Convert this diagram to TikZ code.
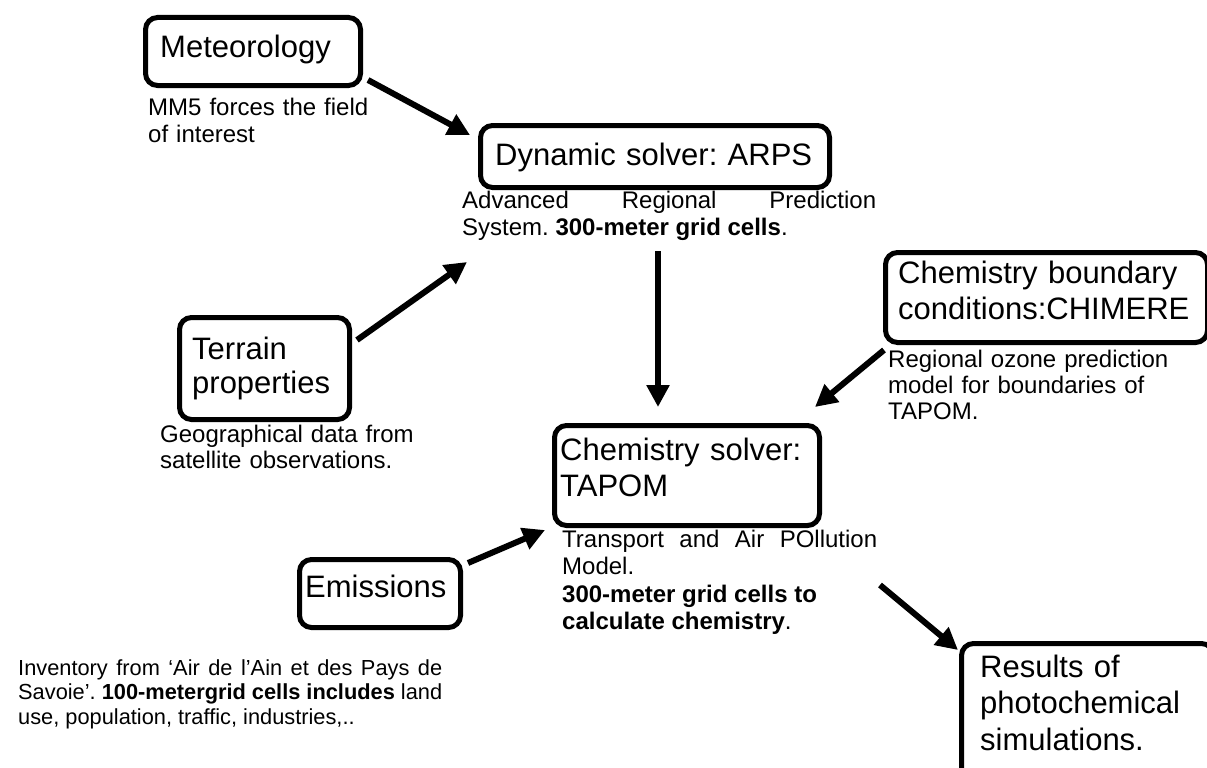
\documentclass[tikz,border=0pt]{standalone}
\usepackage{fontspec}
\setmainfont{Liberation Sans}
\frenchspacing
\usetikzlibrary{arrows.meta}
\tikzset{
  box/.style={draw, line width=5pt, rounded corners=12pt, inner sep=0pt, anchor=north west},
  bigtxt/.style={font=\fontsize{31}{36}\selectfont, inner sep=0pt, anchor=base west, align=left, text width=330pt},
  smalltxt/.style={font=\fontsize{24}{27.5}\selectfont, inner sep=0pt, anchor=base west, align=left, text width=320pt},
  justtxt/.style={font=\fontsize{24}{27.5}\selectfont, inner sep=0pt, anchor=base west, align=justify},
  arr/.style={line width=6pt, -{Triangle[length=22pt,width=22pt]}}
}
\begin{document}
\begin{tikzpicture}[x=1pt,y=-1pt]
\useasboundingbox (0,0) rectangle (1207,768);
% boxes and texts
\node[box, minimum width=215pt, minimum height=68pt] (met) at (143,15) {};
\node[bigtxt] (mettxt) at (160,58) {Meteorology};
\node[smalltxt] (metdesc) at (148,115) {MM5 forces the field\\of interest};

\node[box, minimum width=349pt, minimum height=62pt] (arps) at (478,123) {};
\node[bigtxt, text width=340pt] (arpstxt) at (495,165) {Dynamic solver: ARPS};
\node[justtxt, text width=414pt] (arpsdesc) at (462,208) {Advanced Regional Prediction\linebreak System. \textbf{300-meter grid cells}.};

\node[box, minimum width=170pt, minimum height=102pt] (ter) at (177,315) {};
\node[bigtxt, font=\fontsize{31}{34.5}\selectfont] (tertxt) at (192,359) {Terrain\\properties};
\node[smalltxt, font=\fontsize{24}{26}\selectfont] (terdesc) at (160,442) {Geographical data from\\satellite observations.};

\node[box, minimum width=322pt, minimum height=90pt] (chim) at (883,250) {};
\node[bigtxt] (chimtxt) at (898,283) {Chemistry boundary\\conditions:CHIMERE};
\node[smalltxt, font=\fontsize{24}{26}\selectfont] (chimdesc) at (888,367) {Regional ozone prediction\\model for boundaries of\\TAPOM.};

\node[box, minimum width=265pt, minimum height=100pt] (tap) at (552,423) {};
\node[bigtxt] (taptxt) at (560,460) {Chemistry solver:\\TAPOM};
\node[justtxt, text width=315pt] (tapdesc) at (562,547) {Transport and Air POllution\linebreak Model.\\\textbf{300-meter grid cells to}\\\textbf{calculate chemistry}.};

\node[box, minimum width=161pt, minimum height=68pt] (emi) at (297,557) {};
\node[bigtxt] (emitxt) at (305,597) {Emissions};
\node[justtxt, font=\fontsize{21.8}{24.5}\selectfont, text width=424pt] (emidesc) at (18,675) {Inventory from ‘Air de l’Ain et des Pays de\linebreak Savoie’. \textbf{100-metergrid cells includes} land\linebreak use, population, traffic, industries,..};

\node[box, minimum width=252pt, minimum height=140pt] (res) at (959,641) {};
\node[bigtxt, font=\fontsize{31}{36.5}\selectfont, text width=220pt] (restxt) at (980,677) {Results of\\photochemical\\simulations.};

% connector end points
\coordinate (metout) at (368,80);
\coordinate (arpsin1) at (470,135);
\coordinate (terout) at (357,340);
\coordinate (arpsin2) at (467,262);
\coordinate (arpsout) at (658,251);
\coordinate (tapin1) at (658,407);
\coordinate (chimout) at (884,350);
\coordinate (tapin2) at (815,407);
\coordinate (emiout) at (468,563);
\coordinate (tapin3) at (545,530);
\coordinate (tapout) at (880,585);
\coordinate (resin) at (958,650);

\draw[arr] (metout) -- (arpsin1);
\draw[arr] (terout) -- (arpsin2);
\draw[arr] (arpsout) -- (tapin1);
\draw[arr] (chimout) -- (tapin2);
\draw[arr] (emiout) -- (tapin3);
\draw[arr] (tapout) -- (resin);
\end{tikzpicture}
\end{document}
